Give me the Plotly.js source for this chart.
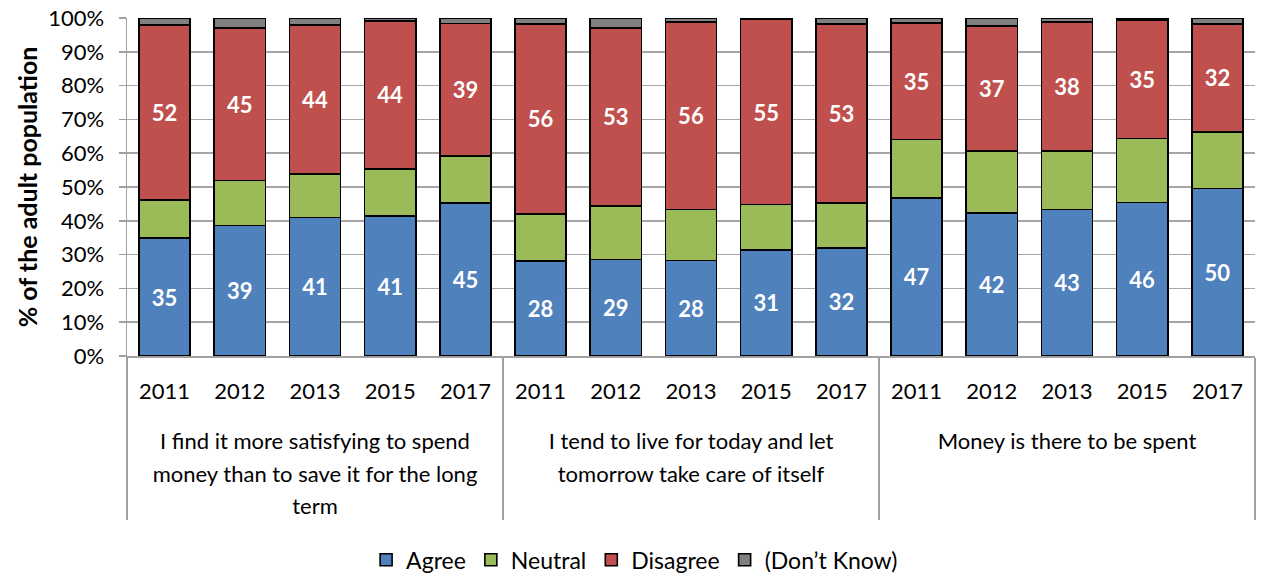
<!DOCTYPE html>
<html>
<head>
<meta charset="utf-8">
<script src="https://cdn.plot.ly/plotly-3.0.1.min.js"></script>
<style>
  html, body { margin: 0; padding: 0; background: #fff; }
  #chart { width: 1262px; height: 576px; }
</style>
</head>
<body>
<div id="chart"></div>
<script>
const statements = [
  "I find it more satisfying to spend<br>money than to save it for the long<br>term",
  "I tend to live for today and let<br>tomorrow take care of itself",
  "Money is there to be spent"
];
const years = ["2011", "2012", "2013", "2015", "2017"];

const agree    = [34.9, 38.6, 41.0, 41.4, 45.2, 28.1, 28.6, 28.2, 31.4, 32.0, 46.8, 42.3, 43.3, 45.4, 49.6];
const neutral  = [11.2, 13.3, 12.8, 13.9, 14.0, 13.9, 15.8, 15.2, 13.4, 13.3, 17.2, 18.4, 17.4, 18.9, 16.7];
const disagree = [51.8, 45.2, 44.1, 43.9, 39.2, 56.3, 52.7, 55.5, 54.7, 52.9, 34.6, 37.0, 38.2, 35.1, 32.0];
const dontKnow = [2.1, 2.9, 2.1, 0.8, 1.6, 1.7, 2.9, 1.1, 0.5, 1.8, 1.4, 2.3, 1.1, 0.6, 1.7];

const agreeLabels    = [35, 39, 41, 41, 45, 28, 29, 28, 31, 32, 47, 42, 43, 46, 50];
const disagreeLabels = [52, 45, 44, 44, 39, 56, 53, 56, 55, 53, 35, 37, 38, 35, 32];

const seriesNames = ["Agree", "Neutral", "Disagree", "(Don\u2019t Know)"];
const seriesColors = ["#4F81BD", "#9BBB59", "#C0504D", "#808080"];

// multicategory labels; a larger base font gives the wider line spacing,
// the visible text is set back to 22px with a span
const wrap = s => s.split("<br>").map(l => '<span style="font-size:22px">' + l + '</span>').join("<br>");
const lvl1 = [], lvl2 = [];
statements.forEach(s => years.forEach(y => { lvl1.push("<br>" + wrap(s)); lvl2.push(wrap(y)); }));

const values = [agree, neutral, disagree, dontKnow];
const labels = [agreeLabels, null, disagreeLabels, null];

const FONT = "Lato, 'Open Sans', sans-serif";

const traces = values.map((v, i) => ({
  type: "bar",
  name: seriesNames[i],
  x: [lvl1, lvl2],
  y: v,
  text: labels[i] ? labels[i].map(String) : undefined,
  textposition: labels[i] ? "inside" : "none",
  insidetextanchor: "middle",
  constraintext: "none",
  textfont: { family: FONT, size: 22, color: "#ffffff", weight: "bold" },
  marker: { color: seriesColors[i], line: { color: "#000000", width: 1.6 } },
  hoverinfo: "name+y"
}));

const layout = {
  width: 1262,
  height: 576,
  margin: { l: 127, r: 7, t: 18, b: 220, autoexpand: false },
  paper_bgcolor: "#ffffff",
  plot_bgcolor: "#ffffff",
  barmode: "stack",
  bargap: 0.32,
  font: { family: FONT, size: 22, color: "#000000" },
  showlegend: true,
  legend: {
    orientation: "h",
    x: 0.45, xanchor: "center",
    xref: "paper",
    yref: "container",
    y: 0.028, yanchor: "middle",
    traceorder: "normal",
    font: { size: 23 },
    itemwidth: 30
  },
  xaxis: {
    type: "multicategory",
    showgrid: false,
    showline: true,
    linecolor: "#A0A0A0",
    linewidth: 1.5,
    ticks: "",
    ticklabelstandoff: 11,
    showdividers: true,
    dividercolor: "#A0A0A0",
    dividerwidth: 1.5,
    tickfont: { size: 25 }
  },
  yaxis: {
    range: [0, 100],
    dtick: 10,
    ticksuffix: "%",
    showgrid: true,
    gridcolor: "#A6A6A6",
    gridwidth: 1.5,
    showline: true,
    linecolor: "#A0A0A0",
    linewidth: 1.5,
    ticks: "outside",
    ticklen: 7,
    tickcolor: "#A0A0A0",
    tickwidth: 1.5,
    ticklabelstandoff: 10,
    zeroline: false,
    tickfont: { size: 22 },
    title: { text: "<b>% of the adult population</b>", font: { size: 25 }, standoff: 3 }
  }
};

Plotly.newPlot("chart", traces, layout, { displayModeBar: false, staticPlot: true });
</script>
</body>
</html>
